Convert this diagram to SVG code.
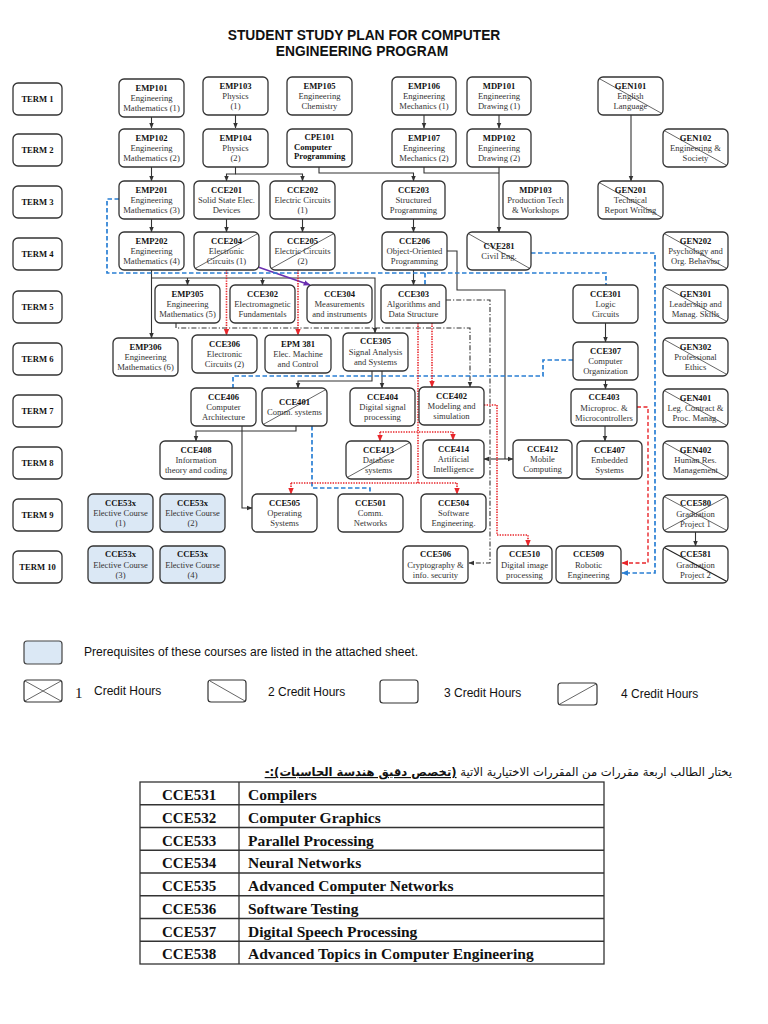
<svg xmlns="http://www.w3.org/2000/svg" width="768" height="1024" viewBox="0 0 768 1024">
<style>
.bg{fill:#fff}
.n rect{fill:#fff;stroke:#333;stroke-width:1.3}
.n.el rect{fill:#dbe8f5}
.n text{font-family:"Liberation Serif","DejaVu Serif",serif;text-anchor:middle;fill:#333;font-size:8.6px}
.n text.c{font-weight:bold;fill:#111}
.n line{stroke:#555;stroke-width:0.9}
.t rect{fill:#fff;stroke:#333;stroke-width:1.3}
.t text{font-family:"Liberation Serif","DejaVu Serif",serif;font-weight:bold;font-size:8.6px;text-anchor:middle;fill:#111}
.s{stroke:#333;stroke-width:1.1;fill:none}
.dd{stroke:#333;stroke-width:1.1;fill:none;stroke-dasharray:5 2 1.2 2}
.bl{stroke:#2a7fd4;stroke-width:1.7;fill:none;stroke-dasharray:4.5 2.5}
.rd{stroke:#e8262b;stroke-width:1.6;fill:none;stroke-dasharray:1.4 1.2}
.rs{stroke:#e8262b;stroke-width:1.4;fill:none;stroke-dasharray:4 2.5}
.pu{stroke:#6a2fb0;stroke-width:1.6;fill:none}
.title{font-family:"Liberation Sans",Arial,sans-serif;font-weight:bold;font-size:13.8px;text-anchor:middle;fill:#111}
.lg{font-family:"Liberation Sans","Open Sans",sans-serif;font-size:12px;fill:#111}
.lgbox{fill:#fff;stroke:#333;stroke-width:1.2}
.lgline{stroke:#555;stroke-width:0.9}
.tb text{font-family:"Liberation Serif","DejaVu Serif",serif;font-weight:bold;font-size:15.5px;fill:#111}
.tb text.k{font-size:15px}
.tb line,.tb rect{stroke:#333;stroke-width:1.3;fill:none}
</style>
<defs>
<marker id="ad" viewBox="0 0 10 10" refX="9" refY="5" markerWidth="6" markerHeight="6" orient="auto" markerUnits="userSpaceOnUse"><path d="M0,1 L10,5 L0,9 z" fill="#333"/></marker>
<marker id="ar" viewBox="0 0 10 10" refX="9" refY="5" markerWidth="7" markerHeight="7" orient="auto" markerUnits="userSpaceOnUse"><path d="M0,1 L10,5 L0,9 z" fill="#e8262b"/></marker>
<marker id="ab" viewBox="0 0 10 10" refX="9" refY="5" markerWidth="7" markerHeight="7" orient="auto" markerUnits="userSpaceOnUse"><path d="M0,1 L10,5 L0,9 z" fill="#2a7fd4"/></marker>
<marker id="ap" viewBox="0 0 10 10" refX="9" refY="5" markerWidth="7" markerHeight="7" orient="auto" markerUnits="userSpaceOnUse"><path d="M0,1 L10,5 L0,9 z" fill="#6a2fb0"/></marker>
</defs>
<rect class="bg" x="0" y="0" width="768" height="1024"/>
<text class="title" x="364" y="40">STUDENT STUDY PLAN FOR COMPUTER</text>
<text class="title" x="362" y="56">ENGINEERING PROGRAM</text>

<g id="terms" class="t">
<rect x="13" y="83" width="49" height="32" rx="5"/><text x="37.5" y="102">TERM 1</text>
<rect x="13" y="134" width="49" height="32" rx="5"/><text x="37.5" y="153">TERM 2</text>
<rect x="13" y="186" width="49" height="32" rx="5"/><text x="37.5" y="205">TERM 3</text>
<rect x="13" y="238" width="49" height="32" rx="5"/><text x="37.5" y="257">TERM 4</text>
<rect x="13" y="291" width="49" height="32" rx="5"/><text x="37.5" y="310">TERM 5</text>
<rect x="13" y="343" width="49" height="32" rx="5"/><text x="37.5" y="362">TERM 6</text>
<rect x="13" y="395" width="49" height="32" rx="5"/><text x="37.5" y="414">TERM 7</text>
<rect x="13" y="447" width="49" height="32" rx="5"/><text x="37.5" y="466">TERM 8</text>
<rect x="13" y="499" width="49" height="32" rx="5"/><text x="37.5" y="518">TERM 9</text>
<rect x="13" y="551" width="49" height="32" rx="5"/><text x="37.5" y="570">TERM 10</text>
</g>

<g id="connectors">
<path class="s" d="M151.5 117 V128" marker-end="url(#ad)"/>
<path class="s" d="M235.5 115 V128" marker-end="url(#ad)"/>
<path class="s" d="M424 115 V128" marker-end="url(#ad)"/>
<path class="s" d="M499 115 V128" marker-end="url(#ad)"/>
<path class="s" d="M631 115 V181" marker-end="url(#ad)"/>
<path class="s" d="M151.5 167 V181" marker-end="url(#ad)"/>
<path class="s" d="M235.5 167 V174 H226.5 V181" marker-end="url(#ad)"/>
<path class="s" d="M235.5 174 H302.5 V181" marker-end="url(#ad)"/>
<path class="s" d="M319 167 V173 H413.5 V181" marker-end="url(#ad)"/>
<path class="s" d="M424 167 V173 H499"/>
<path class="s" d="M499 167 V232" marker-end="url(#ad)"/>
<path class="s" d="M151.5 219 V232" marker-end="url(#ad)"/>
<path class="s" d="M226.5 219 V232" marker-end="url(#ad)"/>
<path class="s" d="M302.5 219 V232" marker-end="url(#ad)"/>
<path class="s" d="M413.5 219 V232" marker-end="url(#ad)"/>
<path class="s" d="M151.5 270 V338" marker-end="url(#ad)"/>
<path class="s" d="M151.5 278 H375 V333" marker-end="url(#ad)"/>
<path class="s" d="M187.5 278 V285" marker-end="url(#ad)"/>
<path class="s" d="M262.5 278 V285" marker-end="url(#ad)"/>
<path class="s" d="M413.5 270 V285" marker-end="url(#ad)"/>
<path class="s" d="M447 251 H457 V290 H505 V459"/>
<path class="s" d="M505 459 H484" marker-end="url(#ad)"/>
<path class="s" d="M505 459 H513" marker-end="url(#ad)"/>
<path class="s" d="M372 371 V381 H298 V388" marker-end="url(#ad)"/>
<path class="s" d="M382 371 V388" marker-end="url(#ad)"/>
<path class="s" d="M605.5 323 V342" marker-end="url(#ad)"/>
<path class="s" d="M605.5 380 V389" marker-end="url(#ad)"/>
<path class="s" d="M605 426 V441" marker-end="url(#ad)"/>
<path class="s" d="M695.5 532 V546" marker-end="url(#ad)"/>
<path class="s" d="M242 426 V508 H252" marker-end="url(#ad)"/>
<path class="s" d="M296 426 V431 H196 V441" marker-end="url(#ad)"/>
<path class="pu" d="M258 267 L310 285" marker-end="url(#ap)"/>
<path class="dd" d="M446 300 H490 V563 H469" marker-end="url(#ad)"/>
<path class="dd" d="M176 323 V328 H470 V387" marker-end="url(#ad)"/>
<path class="bl" d="M119 199 H107 V273 H606 V285"/>
<path class="bl" d="M425 273 V285"/>
<path class="bl" d="M531 253 H655 V573 H622" marker-end="url(#ab)"/>
<path class="bl" d="M573 360 H543 V376 H233 V388"/>
<path class="bl" d="M312 426 V488 H370 V494"/>
<path class="rd" d="M226.5 270 V335" marker-end="url(#ar)"/>
<path class="rd" d="M298 270 V335" marker-end="url(#ar)"/>
<path class="rd" d="M432 323 V387" marker-end="url(#ar)"/>
<path class="rd" d="M418 323 V483"/>
<path class="rd" d="M380 432 H453"/>
<path class="rd" d="M380 432 V441" marker-end="url(#ar)"/>
<path class="rd" d="M453 432 V440" marker-end="url(#ar)"/>
<path class="rd" d="M291 483 H457"/>
<path class="rd" d="M291 483 V494" marker-end="url(#ar)"/>
<path class="rd" d="M457 483 V494" marker-end="url(#ar)"/>
<path class="rd" d="M484 405 H497 V535 H528 V546" marker-end="url(#ar)"/>
<path class="rs" d="M637 407 H648 V563 H622" marker-end="url(#ar)"/>
</g>

<!-- TERM 1 -->
<g id="EMP101" class="n"><rect x="119" y="79" width="65" height="38" rx="5"/><text class="c" x="151.5" y="90.5">EMP101</text><text x="151.5" y="101">Engineering</text><text x="151.5" y="111">Mathematics (1)</text></g>
<g id="EMP103" class="n"><rect x="203" y="77" width="65" height="38" rx="5"/><text class="c" x="235.5" y="88.5">EMP103</text><text x="235.5" y="99">Physics</text><text x="235.5" y="109">(1)</text></g>
<g id="EMP105" class="n"><rect x="287" y="77" width="65" height="38" rx="5"/><text class="c" x="319.5" y="88.5">EMP105</text><text x="319.5" y="99">Engineering</text><text x="319.5" y="109">Chemistry</text></g>
<g id="EMP106" class="n"><rect x="392" y="77" width="64" height="38" rx="5"/><text class="c" x="424" y="88.5">EMP106</text><text x="424" y="99">Engineering</text><text x="424" y="109">Mechanics (1)</text></g>
<g id="MDP101" class="n"><rect x="467" y="77" width="64" height="38" rx="5"/><text class="c" x="499" y="88.5">MDP101</text><text x="499" y="99">Engineering</text><text x="499" y="109">Drawing (1)</text></g>
<g id="GEN101" class="n"><rect x="598" y="77" width="65" height="38" rx="5"/><line x1="600" y1="79" x2="661" y2="113"/><text class="c" x="630.5" y="88.5">GEN101</text><text x="630.5" y="99">English</text><text x="630.5" y="109">Language</text></g>

<!-- TERM 2 -->
<g id="EMP102" class="n"><rect x="119" y="129" width="65" height="38" rx="5"/><text class="c" x="151.5" y="140.5">EMP102</text><text x="151.5" y="151">Engineering</text><text x="151.5" y="161">Mathematics (2)</text></g>
<g id="EMP104" class="n"><rect x="203" y="129" width="65" height="38" rx="5"/><text class="c" x="235.5" y="140.5">EMP104</text><text x="235.5" y="151">Physics</text><text x="235.5" y="161">(2)</text></g>
<g id="CPE101" class="n"><rect x="287" y="129" width="65" height="38" rx="5"/><text class="c" x="319.5" y="140">CPE101</text><text class="c" x="294" y="150" style="text-anchor:start">Computer</text><text class="c" x="294" y="159" style="text-anchor:start">Programming</text></g>
<g id="EMP107" class="n"><rect x="392" y="129" width="64" height="38" rx="5"/><text class="c" x="424" y="140.5">EMP107</text><text x="424" y="151">Engineering</text><text x="424" y="161">Mechanics (2)</text></g>
<g id="MDP102" class="n"><rect x="467" y="129" width="64" height="38" rx="5"/><text class="c" x="499" y="140.5">MDP102</text><text x="499" y="151">Engineering</text><text x="499" y="161">Drawing (2)</text></g>
<g id="GEN102" class="n"><rect x="663" y="129" width="65" height="38" rx="5"/><line x1="665" y1="131" x2="726" y2="165"/><text class="c" x="695.5" y="140.5">GEN102</text><text x="695.5" y="151">Engineering &amp;</text><text x="695.5" y="161">Society</text></g>

<!-- TERM 3 -->
<g id="EMP201" class="n"><rect x="119" y="181" width="65" height="38" rx="5"/><text class="c" x="151.5" y="192.5">EMP201</text><text x="151.5" y="203">Engineering</text><text x="151.5" y="213">Mathematics (3)</text></g>
<g id="CCE201" class="n"><rect x="194" y="181" width="65" height="38" rx="5"/><text class="c" x="226.5" y="192.5">CCE201</text><text x="226.5" y="203">Solid State Elec.</text><text x="226.5" y="213">Devices</text></g>
<g id="CCE202" class="n"><rect x="270" y="181" width="65" height="38" rx="5"/><text class="c" x="302.5" y="192.5">CCE202</text><text x="302.5" y="203">Electric Circuits</text><text x="302.5" y="213">(1)</text></g>
<g id="CCE203" class="n"><rect x="382" y="181" width="63" height="38" rx="5"/><text class="c" x="413.5" y="192.5">CCE203</text><text x="413.5" y="203">Structured</text><text x="413.5" y="213">Programming</text></g>
<g id="MDP103" class="n"><rect x="503" y="181" width="65" height="38" rx="5"/><text class="c" x="535.5" y="192.5">MDP103</text><text x="535.5" y="203">Production Tech</text><text x="535.5" y="213">&amp; Workshops</text></g>
<g id="GEN201" class="n"><rect x="598" y="181" width="65" height="38" rx="5"/><line x1="600" y1="183" x2="661" y2="217"/><text class="c" x="630.5" y="192.5">GEN201</text><text x="630.5" y="203">Technical</text><text x="630.5" y="213">Report Writing</text></g>

<!-- TERM 4 -->
<g id="EMP202" class="n"><rect x="119" y="232" width="65" height="38" rx="5"/><text class="c" x="151.5" y="243.5">EMP202</text><text x="151.5" y="254">Engineering</text><text x="151.5" y="264">Mathematics (4)</text></g>
<g id="CCE204" class="n"><rect x="194" y="232" width="65" height="38" rx="5"/><line x1="196" y1="268" x2="257" y2="234"/><text class="c" x="226.5" y="243.5">CCE204</text><text x="226.5" y="254">Electronic</text><text x="226.5" y="264">Circuits (1)</text></g>
<g id="CCE205" class="n"><rect x="270" y="232" width="65" height="38" rx="5"/><line x1="272" y1="268" x2="333" y2="234"/><text class="c" x="302.5" y="243.5">CCE205</text><text x="302.5" y="254">Electric Circuits</text><text x="302.5" y="264">(2)</text></g>
<g id="CCE206" class="n"><rect x="382" y="232" width="65" height="38" rx="5"/><text class="c" x="414.5" y="243.5">CCE206</text><text x="414.5" y="254">Object-Oriented</text><text x="414.5" y="264">Programming</text></g>
<g id="CVE281" class="n"><rect x="467" y="232" width="64" height="38" rx="5"/><line x1="469" y1="234" x2="529" y2="268"/><text class="c" x="499" y="249">CVE281</text><text x="499" y="259">Civil Eng.</text></g>
<g id="GEN202" class="n"><rect x="663" y="232" width="65" height="38" rx="5"/><line x1="665" y1="234" x2="726" y2="268"/><text class="c" x="695.5" y="243.5">GEN202</text><text x="695.5" y="254">Psychology and</text><text x="695.5" y="264">Org. Behavior</text></g>

<!-- TERM 5 -->
<g id="EMP305" class="n"><rect x="155" y="285" width="65" height="38" rx="5"/><text class="c" x="187.5" y="296.5">EMP305</text><text x="187.5" y="307">Engineering</text><text x="187.5" y="317">Mathematics (5)</text></g>
<g id="CCE302" class="n"><rect x="230" y="285" width="65" height="38" rx="5"/><text class="c" x="262.5" y="296.5">CCE302</text><text x="262.5" y="307">Electromagnetic</text><text x="262.5" y="317">Fundamentals</text></g>
<g id="CCE304" class="n"><rect x="307" y="285" width="65" height="38" rx="5"/><text class="c" x="339.5" y="296.5">CCE304</text><text x="339.5" y="307">Measurements</text><text x="339.5" y="317">and instruments</text></g>
<g id="CCE303" class="n"><rect x="381" y="285" width="65" height="38" rx="5"/><text class="c" x="413.5" y="296.5">CCE303</text><text x="413.5" y="307">Algorithms and</text><text x="413.5" y="317">Data Structure</text></g>
<g id="CCE301" class="n"><rect x="573" y="285" width="65" height="38" rx="5"/><text class="c" x="605.5" y="296.5">CCE301</text><text x="605.5" y="307">Logic</text><text x="605.5" y="317">Circuits</text></g>
<g id="GEN301" class="n"><rect x="663" y="285" width="65" height="38" rx="5"/><line x1="665" y1="287" x2="726" y2="321"/><text class="c" x="695.5" y="296.5">GEN301</text><text x="695.5" y="307">Leadership and</text><text x="695.5" y="317">Manag. Skills</text></g>

<!-- TERM 6 -->
<g id="EMP306" class="n"><rect x="113" y="338" width="65" height="38" rx="5"/><text class="c" x="145.5" y="349.5">EMP306</text><text x="145.5" y="360">Engineering</text><text x="145.5" y="370">Mathematics (6)</text></g>
<g id="CCE306" class="n"><rect x="192" y="335" width="65" height="38" rx="5"/><text class="c" x="224.5" y="346.5">CCE306</text><text x="224.5" y="357">Electronic</text><text x="224.5" y="367">Circuits (2)</text></g>
<g id="EPM381" class="n"><rect x="265" y="335" width="66" height="38" rx="5"/><text class="c" x="298" y="346.5">EPM 381</text><text x="298" y="357">Elec. Machine</text><text x="298" y="367">and Control</text></g>
<g id="CCE305" class="n"><rect x="343" y="333" width="65" height="38" rx="5"/><text class="c" x="375.5" y="344">CCE305</text><text x="375.5" y="354.5">Signal Analysis</text><text x="375.5" y="364.5">and Systems</text></g>
<g id="CCE307" class="n"><rect x="573" y="342" width="65" height="38" rx="5"/><text class="c" x="605.5" y="353.5">CCE307</text><text x="605.5" y="364">Computer</text><text x="605.5" y="374">Organization</text></g>
<g id="GEN302" class="n"><rect x="663" y="338" width="65" height="38" rx="5"/><line x1="665" y1="340" x2="726" y2="374"/><text class="c" x="695.5" y="349.5">GEN302</text><text x="695.5" y="360">Professional</text><text x="695.5" y="370">Ethics</text></g>

<!-- TERM 7 -->
<g id="CCE406" class="n"><rect x="191" y="388" width="65" height="38" rx="5"/><text class="c" x="223.5" y="399.5">CCE406</text><text x="223.5" y="410">Computer</text><text x="223.5" y="420">Architecture</text></g>
<g id="CCE401" class="n"><rect x="262" y="388" width="65" height="38" rx="5"/><line x1="264" y1="424" x2="325" y2="390"/><text class="c" x="294.5" y="405">CCE401</text><text x="294.5" y="415">Comm. systems</text></g>
<g id="CCE404" class="n"><rect x="350" y="388" width="65" height="38" rx="5"/><text class="c" x="382.5" y="399.5">CCE404</text><text x="382.5" y="410">Digital signal</text><text x="382.5" y="420">processing</text></g>
<g id="CCE402" class="n"><rect x="419" y="387" width="65" height="38" rx="5"/><text class="c" x="451.5" y="398.5">CCE402</text><text x="451.5" y="409">Modeling and</text><text x="451.5" y="419">simulation</text></g>
<g id="CCE403" class="n"><rect x="571" y="389" width="66" height="37" rx="5"/><text class="c" x="604" y="400">CCE403</text><text x="604" y="410.5">Microproc. &amp;</text><text x="604" y="420.5">Microcontrollers</text></g>
<g id="GEN401" class="n"><rect x="663" y="389" width="65" height="38" rx="5"/><line x1="665" y1="391" x2="726" y2="425"/><text class="c" x="695.5" y="400.5">GEN401</text><text x="695.5" y="411">Leg. Contract &amp;</text><text x="695.5" y="421">Proc. Manag.</text></g>

<!-- TERM 8 -->
<g id="CCE408" class="n"><rect x="160" y="441" width="72" height="38" rx="5"/><text class="c" x="196" y="452.5">CCE408</text><text x="196" y="463">Information</text><text x="196" y="473">theory and coding</text></g>
<g id="CCE413" class="n"><rect x="346" y="441" width="65" height="38" rx="5"/><line x1="348" y1="477" x2="409" y2="443"/><text class="c" x="378.5" y="452.5">CCE413</text><text x="378.5" y="463">Database</text><text x="378.5" y="473">systems</text></g>
<g id="CCE414" class="n"><rect x="423" y="440" width="61" height="38" rx="5"/><text class="c" x="453.5" y="451.5">CCE414</text><text x="453.5" y="462">Artificial</text><text x="453.5" y="472">Intelligence</text></g>
<g id="CCE412" class="n"><rect x="513" y="440" width="59" height="38" rx="5"/><text class="c" x="542.5" y="451.5">CCE412</text><text x="542.5" y="462">Mobile</text><text x="542.5" y="472">Computing</text></g>
<g id="CCE407" class="n"><rect x="577" y="441" width="65" height="38" rx="5"/><text class="c" x="609.5" y="452.5">CCE407</text><text x="609.5" y="463">Embedded</text><text x="609.5" y="473">Systems</text></g>
<g id="GEN402" class="n"><rect x="663" y="441" width="65" height="38" rx="5"/><line x1="665" y1="443" x2="726" y2="477"/><text class="c" x="695.5" y="452.5">GEN402</text><text x="695.5" y="463">Human Res.</text><text x="695.5" y="473">Management</text></g>

<!-- TERM 9 -->
<g id="CCE53x-1" class="n el"><rect x="88" y="494" width="65" height="38" rx="5"/><text class="c" x="120.5" y="505.5">CCE53x</text><text x="120.5" y="516">Elective Course</text><text x="120.5" y="526">(1)</text></g>
<g id="CCE53x-2" class="n el"><rect x="160" y="494" width="65" height="38" rx="5"/><text class="c" x="192.5" y="505.5">CCE53x</text><text x="192.5" y="516">Elective Course</text><text x="192.5" y="526">(2)</text></g>
<g id="CCE505" class="n"><rect x="252" y="494" width="65" height="38" rx="5"/><text class="c" x="284.5" y="505.5">CCE505</text><text x="284.5" y="516">Operating</text><text x="284.5" y="526">Systems</text></g>
<g id="CCE501" class="n"><rect x="338" y="494" width="65" height="38" rx="5"/><text class="c" x="370.5" y="505.5">CCE501</text><text x="370.5" y="516">Comm.</text><text x="370.5" y="526">Networks</text></g>
<g id="CCE504" class="n"><rect x="421" y="494" width="65" height="38" rx="5"/><text class="c" x="453.5" y="505.5">CCE504</text><text x="453.5" y="516">Software</text><text x="453.5" y="526">Engineering.</text></g>
<g id="CCE580" class="n"><rect x="663" y="495" width="65" height="37" rx="5"/><line x1="665" y1="497" x2="726" y2="530"/><line x1="665" y1="530" x2="726" y2="497"/><text class="c" x="695.5" y="506">CCE580</text><text x="695.5" y="516.5">Graduation</text><text x="695.5" y="526.5">Project 1</text></g>

<!-- TERM 10 -->
<g id="CCE53x-3" class="n el"><rect x="88" y="546" width="65" height="37" rx="5"/><text class="c" x="120.5" y="557">CCE53x</text><text x="120.5" y="567.5">Elective Course</text><text x="120.5" y="577.5">(3)</text></g>
<g id="CCE53x-4" class="n el"><rect x="160" y="546" width="65" height="37" rx="5"/><text class="c" x="192.5" y="557">CCE53x</text><text x="192.5" y="567.5">Elective Course</text><text x="192.5" y="577.5">(4)</text></g>
<g id="CCE506" class="n"><rect x="403" y="546" width="65" height="37" rx="5"/><text class="c" x="435.5" y="557">CCE506</text><text x="435.5" y="567.5">Cryptography &amp;</text><text x="435.5" y="577.5">info. security</text></g>
<g id="CCE510" class="n"><rect x="497" y="546" width="55" height="37" rx="5"/><text class="c" x="524.5" y="557">CCE510</text><text x="524.5" y="567.5">Digital image</text><text x="524.5" y="577.5">processing</text></g>
<g id="CCE509" class="n"><rect x="556" y="546" width="65" height="37" rx="5"/><text class="c" x="588.5" y="557">CCE509</text><text x="588.5" y="567.5">Robotic</text><text x="588.5" y="577.5">Engineering</text></g>
<g id="CCE581" class="n"><rect x="663" y="546" width="65" height="37" rx="5"/><line x1="665" y1="548" x2="726" y2="581" style="stroke:#222;stroke-width:1.1"/><text class="c" x="695.5" y="557">CCE581</text><text x="695.5" y="567.5">Graduation</text><text x="695.5" y="577.5">Project 2</text></g>

<!-- Legend -->
<g id="legend">
<rect x="24" y="641" width="38" height="23" rx="3" style="fill:#dbe8f5;stroke:#444;stroke-width:1.2"/>
<text class="lg" x="84" y="656" font-size="11.5" textLength="334" lengthAdjust="spacingAndGlyphs">Prerequisites of these courses are listed in the attached sheet.</text>
<rect class="lgbox" x="24" y="680" width="38" height="22" rx="3"/>
<line class="lgline" x1="25" y1="681" x2="61" y2="701"/><line class="lgline" x1="25" y1="701" x2="61" y2="681"/>
<text x="75" y="698" style="font-family:'Liberation Serif',serif;font-size:15px;fill:#111">1</text>
<text class="lg" x="94" y="695">Credit Hours</text>
<rect class="lgbox" x="208" y="680" width="38" height="22" rx="3"/>
<line class="lgline" x1="210" y1="681" x2="245" y2="701"/>
<text class="lg" x="268" y="696">2 Credit Hours</text>
<rect class="lgbox" x="380" y="680" width="38" height="23" rx="3"/>
<text class="lg" x="444" y="697">3 Credit Hours</text>
<rect class="lgbox" x="558" y="683" width="39" height="22" rx="3"/>
<line class="lgline" x1="560" y1="704" x2="596" y2="684"/>
<text class="lg" x="621" y="698">4 Credit Hours</text>
</g>

<!-- Arabic heading -->
<text x="732" y="776" direction="rtl" text-anchor="start" style="font-family:'DejaVu Sans','Noto Sans',sans-serif;font-size:11.6px;fill:#111">يختار الطالب اربعة مقررات من المقررات الاختيارية الاتية <tspan font-weight="bold" text-decoration="underline">(تخصص دقيق هندسة الحاسبات):-</tspan></text>

<!-- Elective table -->
<g id="table" class="tb">
<rect x="140" y="782" width="464" height="182"/>
<line x1="239" y1="782" x2="239" y2="964"/>
<line x1="140" y1="804.75" x2="604" y2="804.75"/>
<line x1="140" y1="827.5" x2="604" y2="827.5"/>
<line x1="140" y1="850.25" x2="604" y2="850.25"/>
<line x1="140" y1="873" x2="604" y2="873"/>
<line x1="140" y1="895.75" x2="604" y2="895.75"/>
<line x1="140" y1="918.5" x2="604" y2="918.5"/>
<line x1="140" y1="941.25" x2="604" y2="941.25"/>
<text class="k" x="162" y="800">CCE531</text><text x="248" y="800">Compilers</text>
<text class="k" x="162" y="822.75">CCE532</text><text x="248" y="822.75">Computer Graphics</text>
<text class="k" x="162" y="845.5">CCE533</text><text x="248" y="845.5">Parallel Processing</text>
<text class="k" x="162" y="868.25">CCE534</text><text x="248" y="868.25">Neural Networks</text>
<text class="k" x="162" y="891">CCE535</text><text x="248" y="891">Advanced Computer Networks</text>
<text class="k" x="162" y="913.75">CCE536</text><text x="248" y="913.75">Software Testing</text>
<text class="k" x="162" y="936.5">CCE537</text><text x="248" y="936.5">Digital Speech Processing</text>
<text class="k" x="162" y="959.25">CCE538</text><text x="248" y="959.25">Advanced Topics in Computer Engineering</text>
</g>
</svg>
